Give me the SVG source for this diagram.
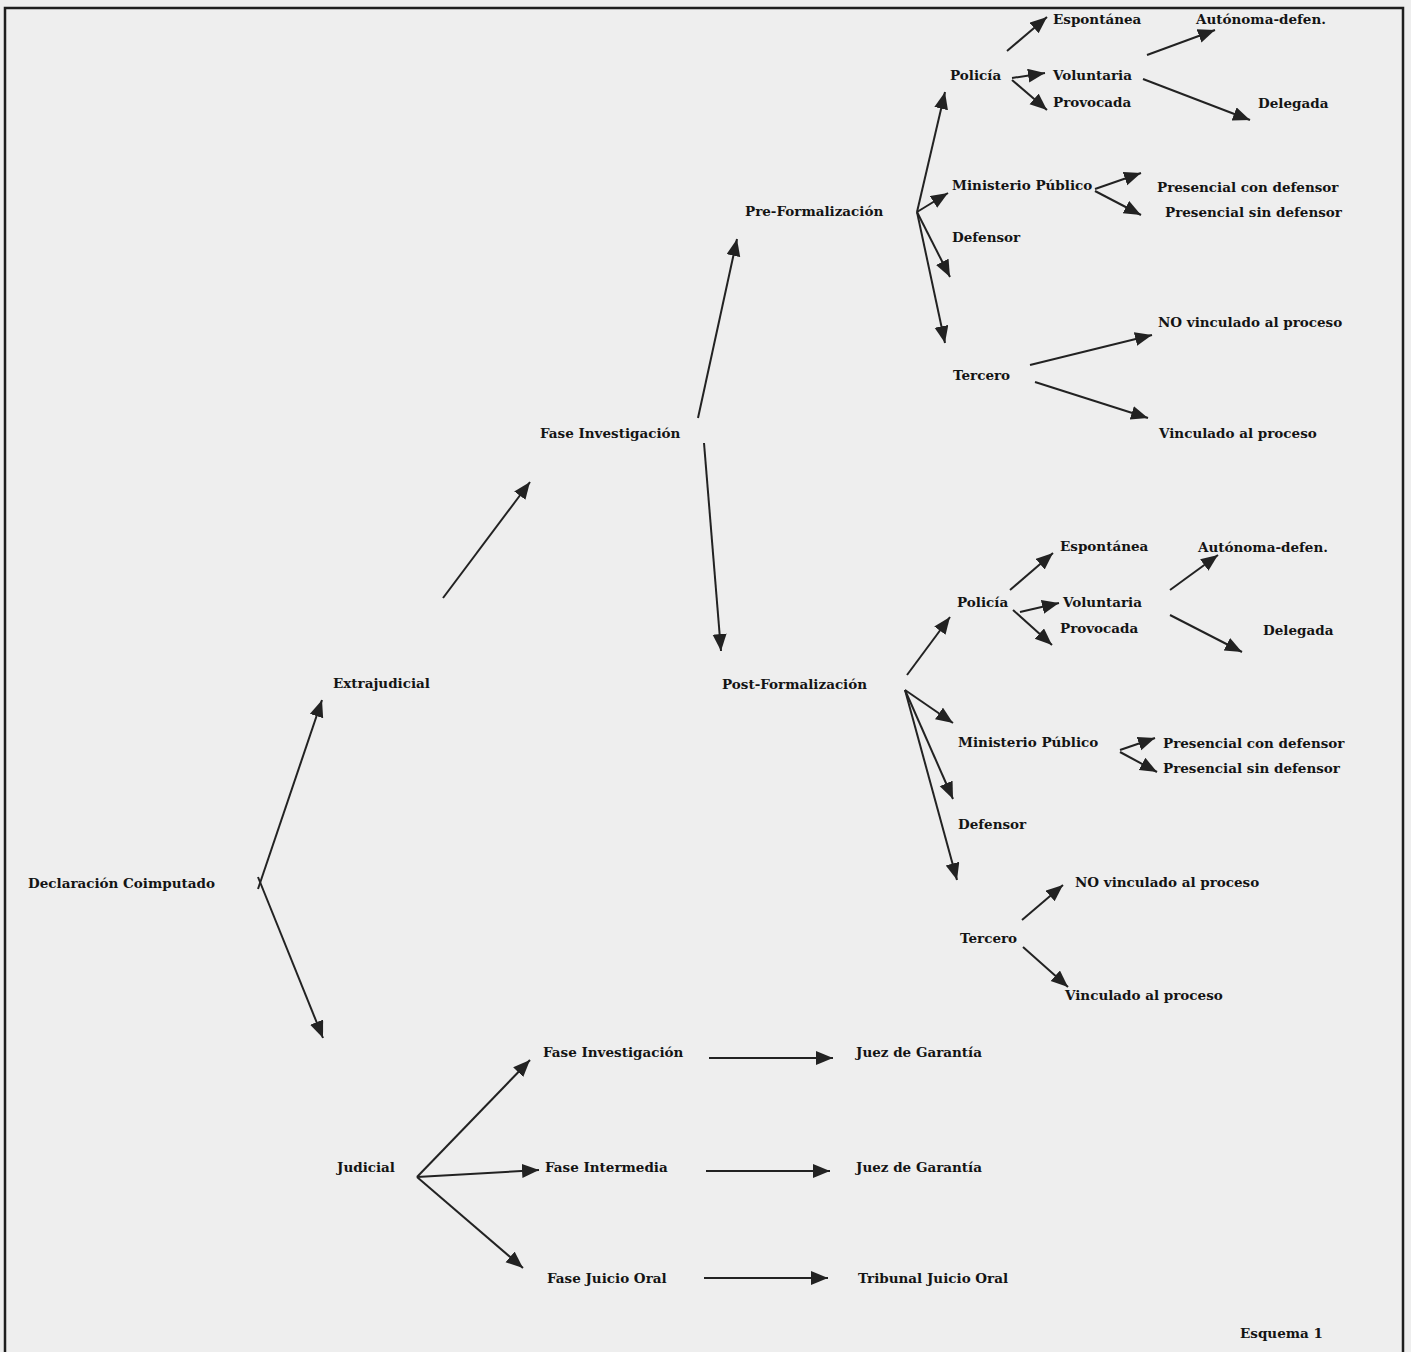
<svg xmlns="http://www.w3.org/2000/svg" width="1411" height="1352" viewBox="0 0 1411 1352">
<defs>
<marker id="ah" markerUnits="userSpaceOnUse" markerWidth="20" markerHeight="16" refX="17" refY="7" orient="auto">
<path d="M0,0 L17,7 L0,14 z" fill="#222222"/>
</marker>
<style>
text{font-family:"DejaVu Serif","Liberation Serif",serif;font-weight:bold;font-size:13.5px;fill:#141414;dominant-baseline:central}
.a{stroke:#222222;stroke-width:2;fill:none;marker-end:url(#ah)}
</style>
</defs>
<rect x="0" y="0" width="1411" height="1352" fill="#eeeeee"/>
<path d="M5,1352 V8 H1403 V1352" fill="none" stroke="#1e1e1e" stroke-width="2.5"/>

<g id="connectors">
<line class="a" x1="258" y1="889" x2="322" y2="700"/>
<line class="a" x1="258" y1="877" x2="323" y2="1038"/>
<line class="a" x1="443" y1="598" x2="530" y2="482"/>
<line class="a" x1="698" y1="418" x2="737" y2="239"/>
<line class="a" x1="704" y1="443" x2="721" y2="651"/>
<line class="a" x1="917" y1="212" x2="945" y2="92"/>
<line class="a" x1="917" y1="212" x2="948" y2="193"/>
<line class="a" x1="917" y1="212" x2="950" y2="277"/>
<line class="a" x1="917" y1="212" x2="945" y2="343"/>
<line class="a" x1="1007" y1="51" x2="1047" y2="17"/>
<line class="a" x1="1012" y1="78" x2="1045" y2="73"/>
<line class="a" x1="1012" y1="80" x2="1047" y2="110"/>
<line class="a" x1="1147" y1="55" x2="1215" y2="30"/>
<line class="a" x1="1143" y1="79" x2="1250" y2="120"/>
<line class="a" x1="1095" y1="189" x2="1141" y2="173"/>
<line class="a" x1="1095" y1="191" x2="1141" y2="215"/>
<line class="a" x1="1030" y1="365" x2="1152" y2="335"/>
<line class="a" x1="1035" y1="382" x2="1148" y2="418"/>
<line class="a" x1="907" y1="675" x2="950" y2="617"/>
<line class="a" x1="905" y1="690" x2="953" y2="723"/>
<line class="a" x1="905" y1="690" x2="953" y2="799"/>
<line class="a" x1="905" y1="690" x2="957" y2="880"/>
<line class="a" x1="1010" y1="590" x2="1053" y2="553"/>
<line class="a" x1="1020" y1="612" x2="1059" y2="603"/>
<line class="a" x1="1013" y1="610" x2="1052" y2="645"/>
<line class="a" x1="1170" y1="590" x2="1218" y2="555"/>
<line class="a" x1="1170" y1="615" x2="1242" y2="652"/>
<line class="a" x1="1120" y1="750" x2="1155" y2="738"/>
<line class="a" x1="1120" y1="752" x2="1157" y2="772"/>
<line class="a" x1="1022" y1="920" x2="1063" y2="885"/>
<line class="a" x1="1023" y1="947" x2="1068" y2="987"/>
<line class="a" x1="417" y1="1177" x2="530" y2="1060"/>
<line class="a" x1="417" y1="1177" x2="539" y2="1170"/>
<line class="a" x1="417" y1="1177" x2="523" y2="1268"/>
<line class="a" x1="709" y1="1058" x2="833" y2="1058"/>
<line class="a" x1="706" y1="1171" x2="830" y2="1171"/>
<line class="a" x1="704" y1="1278" x2="828" y2="1278"/>
</g>

<g id="n-root"><text x="28" y="883">Declaración Coimputado</text></g>
<g id="n-extrajudicial"><text x="333" y="683">Extrajudicial</text></g>
<g id="n-fase-inv-1"><text x="540" y="433">Fase Investigación</text></g>
<g id="n-pre"><text x="745" y="211">Pre-Formalización</text></g>
<g id="n-post"><text x="722" y="684">Post-Formalización</text></g>

<g id="n-policia-1"><text x="950" y="75">Policía</text></g>
<g id="n-espontanea-1"><text x="1053" y="19">Espontánea</text></g>
<g id="n-voluntaria-1"><text x="1053" y="75">Voluntaria</text></g>
<g id="n-provocada-1"><text x="1053" y="102">Provocada</text></g>
<g id="n-autonoma-1"><text x="1196" y="19">Autónoma-defen.</text></g>
<g id="n-delegada-1"><text x="1258" y="103">Delegada</text></g>
<g id="n-mp-1"><text x="952" y="185">Ministerio Público</text></g>
<g id="n-pcon-1"><text x="1157" y="187">Presencial con defensor</text></g>
<g id="n-psin-1"><text x="1165" y="212">Presencial sin defensor</text></g>
<g id="n-defensor-1"><text x="952" y="237">Defensor</text></g>
<g id="n-tercero-1"><text x="953" y="375">Tercero</text></g>
<g id="n-novinc-1"><text x="1158" y="322">NO vinculado al proceso</text></g>
<g id="n-vinc-1"><text x="1159" y="433">Vinculado al proceso</text></g>

<g id="n-policia-2"><text x="957" y="602">Policía</text></g>
<g id="n-espontanea-2"><text x="1060" y="546">Espontánea</text></g>
<g id="n-voluntaria-2"><text x="1063" y="602">Voluntaria</text></g>
<g id="n-provocada-2"><text x="1060" y="628">Provocada</text></g>
<g id="n-autonoma-2"><text x="1198" y="547">Autónoma-defen.</text></g>
<g id="n-delegada-2"><text x="1263" y="630">Delegada</text></g>
<g id="n-mp-2"><text x="958" y="742">Ministerio Público</text></g>
<g id="n-pcon-2"><text x="1163" y="743">Presencial con defensor</text></g>
<g id="n-psin-2"><text x="1163" y="768">Presencial sin defensor</text></g>
<g id="n-defensor-2"><text x="958" y="824">Defensor</text></g>
<g id="n-tercero-2"><text x="960" y="938">Tercero</text></g>
<g id="n-novinc-2"><text x="1075" y="882">NO vinculado al proceso</text></g>
<g id="n-vinc-2"><text x="1065" y="995">Vinculado al proceso</text></g>

<g id="n-judicial"><text x="337" y="1167">Judicial</text></g>
<g id="n-fase-inv-2"><text x="543" y="1052">Fase Investigación</text></g>
<g id="n-fase-int"><text x="545" y="1167">Fase Intermedia</text></g>
<g id="n-fase-oral"><text x="547" y="1278">Fase Juicio Oral</text></g>
<g id="n-juez-1"><text x="856" y="1052">Juez de Garantía</text></g>
<g id="n-juez-2"><text x="856" y="1167">Juez de Garantía</text></g>
<g id="n-tribunal"><text x="858" y="1278">Tribunal Juicio Oral</text></g>
<g id="caption"><text x="1240" y="1333">Esquema 1</text></g>
</svg>
